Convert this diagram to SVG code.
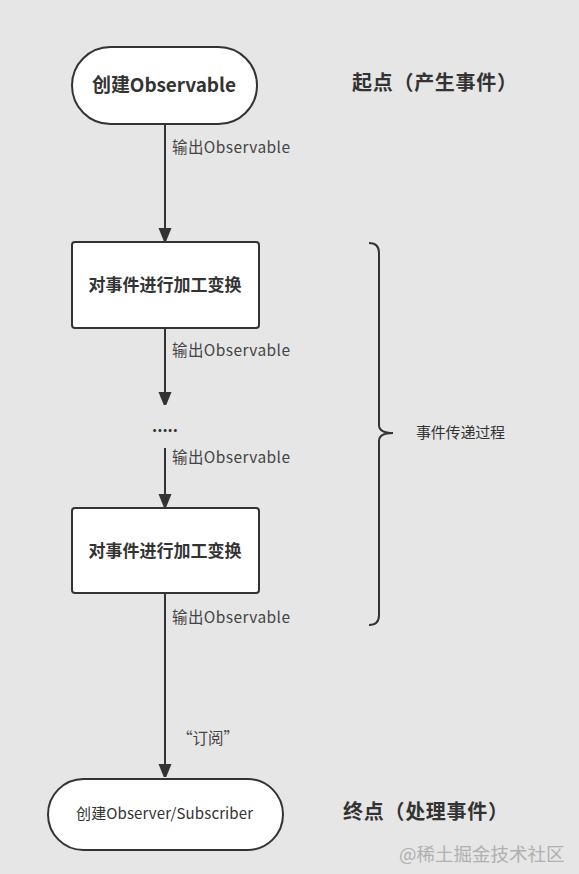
<svg xmlns="http://www.w3.org/2000/svg" width="579" height="874" viewBox="0 0 579 874">
<style>
.node{fill:#fff;stroke:#333;stroke-width:2}
.t{font-family:"Noto Sans CJK SC","Noto Sans",sans-serif;fill:#333}
.b{font-weight:bold;font-size:17px}
.lbl{font-size:15.5px;fill:#444}
.side{font-weight:bold;font-size:20px}
.conn{stroke:#333;stroke-width:2;fill:none}
</style>
<defs>
<marker id="ah" viewBox="0 0 13 16" refX="13" refY="6.5" markerWidth="13" markerHeight="16" markerUnits="userSpaceOnUse" orient="auto">
<path d="M0,0 L16,6.5 L0,13 Z" fill="#333"/>
</marker>
</defs>
<rect width="579" height="874" fill="#e6e6e6"/>
<g id="connectors">
<line class="conn" x1="165" y1="124" x2="165" y2="241" marker-end="url(#ah)"/>
<line class="conn" x1="165" y1="328" x2="165" y2="405" marker-end="url(#ah)"/>
<line class="conn" x1="165" y1="448" x2="165" y2="507" marker-end="url(#ah)"/>
<line class="conn" x1="165" y1="593" x2="165" y2="777" marker-end="url(#ah)"/>
<text class="t lbl" x="172" y="153" textLength="118">输出Observable</text>
<text class="t lbl" x="172" y="356" textLength="118">输出Observable</text>
<text class="t lbl" x="172" y="463" textLength="118">输出Observable</text>
<text class="t lbl" x="172" y="623" textLength="118">输出Observable</text>
<text class="t lbl" x="177" y="744" font-size="15">“订阅”</text>
</g>
<g id="start">
<rect class="node" x="72" y="47" width="185" height="77" rx="38.5"/>
<text class="t b" x="92" y="92" font-size="19" textLength="144" style="font-size:19px">创建Observable</text>
</g>
<g id="transform1">
<rect class="node" x="72" y="242" width="187" height="86" rx="3"/>
<text class="t b" x="165" y="291" text-anchor="middle">对事件进行加工变换</text>
</g>
<g id="ellipsis">
<text class="t" x="165" y="432" font-size="16" font-weight="bold" text-anchor="middle">.....</text>
</g>
<g id="transform2">
<rect class="node" x="72" y="508" width="187" height="85" rx="3"/>
<text class="t b" x="165" y="557" text-anchor="middle">对事件进行加工变换</text>
</g>
<g id="end">
<rect class="node" x="48" y="779" width="235" height="71" rx="35.5"/>
<text class="t" x="76" y="819" font-size="15" textLength="177">创建Observer/Subscriber</text>
</g>
<g id="brace">
<path class="conn" d="M369,243 Q379,243 379,253 L379,425 Q379,433 393,433 Q379,433 379,441 L379,615 Q379,625 369,625"/>
<text class="t" x="416" y="438" font-size="15" textLength="89">事件传递过程</text>
</g>
<g id="sideLabels">
<text class="t side" x="352" y="90" textLength="165">起点（产生事件）</text>
<text class="t side" x="343" y="819" textLength="165">终点（处理事件）</text>
<text class="t" x="399" y="861" font-size="18.5" style="fill:#b0b0b0">@稀土掘金技术社区</text>
</g>
</svg>
